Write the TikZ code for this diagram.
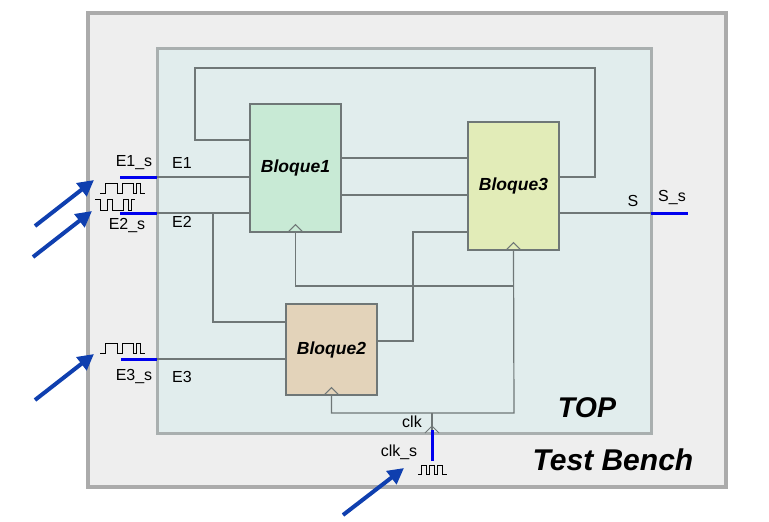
\documentclass[tikz,border=0pt]{standalone}
\usepackage{fontspec}
\setmainfont{Liberation Sans}
\usetikzlibrary{arrows.meta,calc}
\definecolor{benchfill}{HTML}{EEEEEE}
\definecolor{benchline}{HTML}{ABABAB}
\definecolor{topfill}{HTML}{E1EDED}
\definecolor{topline}{HTML}{A9AFAF}
\definecolor{wirecol}{HTML}{6F7777}
\definecolor{blockA}{HTML}{C8EAD5}
\definecolor{blockB}{HTML}{E3D3BA}
\definecolor{blockC}{HTML}{E2ECB8}
\definecolor{stubcol}{HTML}{0000EE}
\definecolor{arrowcol}{HTML}{0F3FAF}
\tikzset{
  block/.style={draw=wirecol, line width=1.2pt, minimum width=91pt, inner sep=0pt,
    font=\fontsize{17.5}{17.5}\selectfont\bfseries\itshape},
  wire/.style={draw=wirecol, line width=1.2pt},
  stub/.style={draw=stubcol, line width=3pt},
  pointer/.style={draw=arrowcol, line width=4pt, -{Triangle[length=16pt,width=16pt]}},
  wave/.style={draw=black, line width=0.9pt},
  sig/.style={inner sep=0pt, font=\fontsize{16}{16}\selectfont},
  clockmark/.style={draw=wirecol, line width=1pt}
}
\begin{document}
\begin{tikzpicture}[x=1pt,y=-1pt]
\useasboundingbox (0,0) rectangle (769,522);
% test bench and top
\draw[fill=benchfill, draw=benchline, line width=3.5pt] (88,13) rectangle (726,487);
\draw[fill=topfill, draw=topline, line width=3pt] (157,48) rectangle (651,433);
\node[inner sep=0pt, font=\fontsize{28.5}{28.5}\selectfont\bfseries\itshape] (toplbl) at (587,408) {TOP};
\node[inner sep=0pt, font=\fontsize{30}{30}\selectfont\bfseries\itshape] (tblbl) at (613,460) {Test Bench};
% blocks
\node[block, fill=blockA, minimum height=128pt] (b1) at (295.5,168) {Bloque1};
\node[block, fill=blockC, minimum height=128pt] (b3) at (513.5,186) {Bloque3};
\node[block, fill=blockB, minimum height=91pt] (b2) at (331.5,349.5) {Bloque2};
% clock marks
\draw[clockmark] ($(b1.south)+(-8,0)$) -- ($(b1.south)+(0,-8)$) -- ($(b1.south)+(8,0)$);
\draw[clockmark] ($(b3.south)+(-8,0)$) -- ($(b3.south)+(0,-8)$) -- ($(b3.south)+(8,0)$);
\draw[clockmark] ($(b2.south)+(-8,0)$) -- ($(b2.south)+(0,-8)$) -- ($(b2.south)+(8,0)$);
% ports
\coordinate (e1) at (157,177);
\coordinate (e2) at (157,213);
\coordinate (e3) at (157,359);
\coordinate (s) at (651,213);
\coordinate (clk) at (432,430);
% wires
\draw[wire] (e1) -- (e1 -| b1.west);
\draw[wire] (e2) -- (e2 -| b1.west);
\draw[wire] (213,213) |- (b2.west |- 0,322);
\draw[wire] (e3) -- (e3 -| b2.west);
\draw[wire] (b1.west |- 0,140) -| (195,68) -| (595,177) -- (b3.east |- 0,177);
\draw[wire] (b1.east |- 0,158) -- (b3.west |- 0,158);
\draw[wire] (b1.east |- 0,195) -- (b3.west |- 0,195);
\draw[wire] (b3.east |- s) -- (s);
\draw[wire] (b3.west |- 0,232) -| (413,341) -- (b2.east |- 0,341);
\draw[wire] (b1.south) |- (514,286);
\draw[wire] (b3.south) -- (514,413) -| (b2.south);
\draw[wire] (432,413) -- (clk);
\draw[clockmark] (425,433) -- (432,426) -- (439,433);
% test bench stubs
\draw[stub] (120,177) -- (e1);
\draw[stub] (120,213) -- (e2);
\draw[stub] (121,359) -- (e3);
\draw[stub] (s) -- (688,213);
\draw[stub] (clk) -- (432,461);
% labels
\node[sig] (e1slbl) at (134,163) {E1\_s};
\node[sig] (e1lbl) at (182,163) {E1};
\node[sig] (e2slbl) at (127,226) {E2\_s};
\node[sig] (e2lbl) at (182,222) {E2};
\node[sig] (e3slbl) at (134,377) {E3\_s};
\node[sig] (e3lbl) at (182,377) {E3};
\node[sig] (slbl) at (633,201) {S};
\node[sig] (sslbl) at (672,198) {S\_s};
\node[sig] (clklbl) at (412,422) {clk};
\node[sig] (clkslbl) at (399,452) {clk\_s};
% waveforms
\draw[wave] (100,193) -- (105,193) -- (105,183) -- (117,183) -- (117,193) -- (122,193) -- (122,183)
  -- (133,183) -- (133,193) -- (136,193) -- (136,183) -- (140,183) -- (140,193) -- (145,193);
\draw[wave] (95,199) -- (100,199) -- (100,210) -- (107,210) -- (107,199) -- (112,199) -- (112,210)
  -- (123,210) -- (123,199) -- (128,199) -- (128,210) -- (131,210) -- (131,199) -- (135,199);
\draw[wave] (100,353) -- (105,353) -- (105,343) -- (117,343) -- (117,353) -- (122,353) -- (122,343)
  -- (133,343) -- (133,353) -- (136,353) -- (136,343) -- (140,343) -- (140,353) -- (145,353);
\draw[wave] (418,474) -- (421,474) -- (421,465) -- (426,465) -- (426,474) -- (429,474) -- (429,465)
  -- (434,465) -- (434,474) -- (437,474) -- (437,465) -- (442,465) -- (442,474) -- (447,474);
% pointers
\draw[pointer] (35,226) -- (94,180);
\draw[pointer] (33,257) -- (92,211);
\draw[pointer] (35,400) -- (94,354);
\draw[pointer] (343,515) -- (404,468);
\end{tikzpicture}
\end{document}
